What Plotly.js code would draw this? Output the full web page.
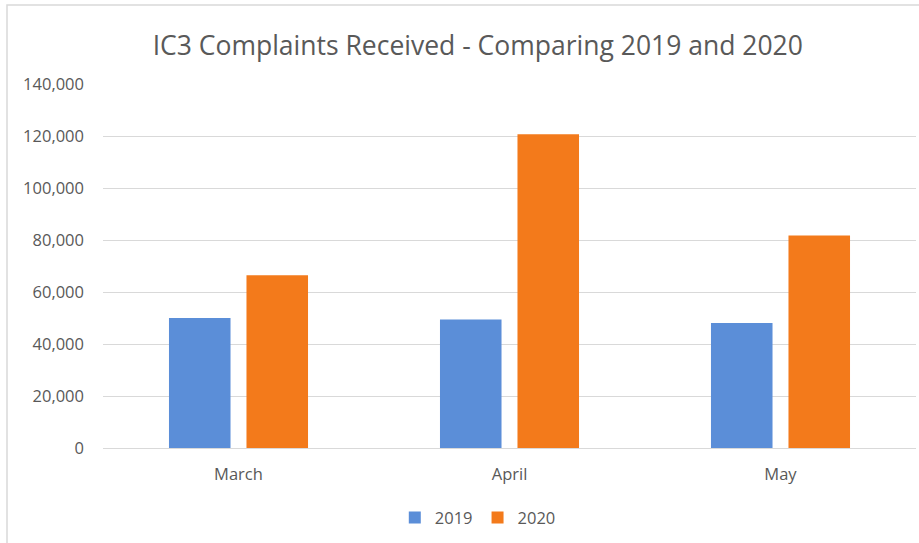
<!DOCTYPE html>
<html>
<head>
<meta charset="utf-8">
<script src="https://cdn.plot.ly/plotly-3.0.1.min.js"></script>
<style>
html,body{margin:0;padding:0;background:#fff;}
#chart{width:919px;height:543px;}
</style>
</head>
<body>
<div id="chart"></div>
<script>
const months = ["March", "April", "May"];
const values2019 = [50000, 49400, 48100];
const values2020 = [66400, 120700, 81700];
const seriesNames = ["2019", "2020"];
const yTickVals = [0, 20000, 40000, 60000, 80000, 100000, 120000, 140000];

const font = "Open Sans, Noto Sans, sans-serif";
const traces = [
  {type: "bar", name: seriesNames[0], x: months, y: values2019,
   marker: {color: "#5b8ed8"}, hoverinfo: "x+y+name"},
  {type: "bar", name: seriesNames[1], x: months, y: values2020,
   marker: {color: "#f37a1b"}, hoverinfo: "x+y+name"}
];

const layout = {
  width: 919, height: 543,
  margin: {l: 103, r: 3, t: 84, b: 95},
  paper_bgcolor: "#ffffff", plot_bgcolor: "#ffffff",
  font: {family: font, color: "#595959", size: 16},
  title: {text: "IC3 Complaints Received - Comparing 2019 and 2020",
    font: {family: font, size: 26.5, color: "#595959"},
    x: 0.461, xref: "paper", xanchor: "center",
    y: 1 - 46/543, yref: "container", yanchor: "middle"},
  barmode: "group", bargap: 0.428, bargroupgap: 0.206,
  xaxis: {showgrid: false, showline: false, zeroline: false, ticks: "",
    tickfont: {size: 16.5, color: "#595959"}, ticklabelstandoff: 14},
  yaxis: {range: [0, 140000], tickvals: yTickVals, tickformat: ",d",
    showgrid: true, gridcolor: "#d9d9d9", gridwidth: 1,
    zeroline: true, zerolinecolor: "#d9d9d9", zerolinewidth: 1,
    showline: false, ticks: "", ticklabelstandoff: 18,
    tickfont: {size: 16.5, color: "#595959"}},
  showlegend: true,
  legend: {orientation: "h", x: 0.461, xanchor: "center", y: -0.192, yanchor: "middle",
    font: {size: 16.5, color: "#595959"}, itemwidth: 30, traceorder: "normal",
    tracegroupgap: 0},
  shapes: [{type: "rect", xref: "paper", yref: "paper",
    x0: (7-103)/813, x1: (925-103)/813, y0: (448-560)/364, y1: (448-5)/364,
    line: {color: "#d9d9d9", width: 1.5}, fillcolor: "rgba(0,0,0,0)", layer: "below"}]
};

Plotly.newPlot("chart", traces, layout, {displayModeBar: false, staticPlot: true});
</script>
</body>
</html>
